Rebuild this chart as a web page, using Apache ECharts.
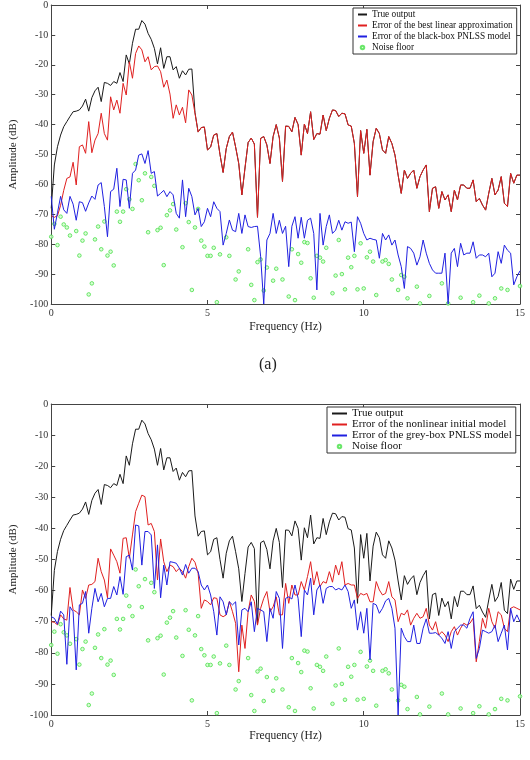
<!DOCTYPE html>
<html>
<head>
<meta charset="utf-8">
<script src="https://cdn.jsdelivr.net/npm/echarts@6/dist/echarts.min.js"></script>
<style>
  html, body { margin: 0; padding: 0; background: #fff; }
  #charts { width: 530px; height: 760px; }
</style>
</head>
<body>
<div id="charts"></div>
<script>
// frequency grid, 0.1 Hz steps from 0 to 15 Hz
const freqHz = Array.from({ length: 151 }, (_, i) => i / 10);

// true output (same curve in both plots), dB
const trueOutput = [
  -68, -53.5, -47.4, -43.5, -40.7, -39, -37.3, -35.7, -35.5, -35.1,
  -33.8, -31.5, -35.5, -31, -28.7, -27.5, -32.3, -25.9, -26.2, -26.9,
  -25.6, -26.2, -22.6, -25.6, -16.7, -19.7, -12.8, -8.1, -8.1, -5.2,
  -6.4, -9.5, -11.5, -14.5, -19.7, -14.3, -21.2, -17.3, -17.3, -21.7,
  -20.6, -24.5, -22, -23.4, -21.5, -21.4, -36, -42.5, -41, -40.8,
  -48.5, -47.5, -43.5, -43, -50, -56, -48, -44, -42.5, -47.5,
  -53, -63.5, -54.5, -46, -44.5, -46.5, -71, -44.6, -44, -46.8,
  -53, -44, -40, -44.5, -59, -40.5, -40.6, -42.4, -37.6, -40,
  -50.2, -39.8, -43, -35.7, -45, -43, -43.2, -36.8, -42, -37.9,
  -35.1, -35.3, -37.3, -36.2, -36.4, -40.1, -40.5, -46.3, -64.1, -42,
  -49.6, -41.6, -56.9, -45.7, -41.2, -43, -48.5, -49.6, -44, -46.3,
  -50.2, -56.9, -63, -55.2, -58, -56.3, -55.2, -61.3, -57.4, -55.2,
  -53.5, -69.1, -61.3, -60.8, -68, -62.4, -65.2, -63.5, -69.1, -61.9,
  -65.2, -60.2, -60.2, -61.3, -61.3, -58.5, -65.8, -64.7, -66.9, -68.6,
  -63, -58, -63.5, -61.9, -57.4, -66.3, -67.4, -56.3, -59.6, -56.9, -56.9
];

// error of the best linear approximation, 0 .. 4.6 Hz;
// above that it lies on the true output curve
const blaErrorLow = [
  -70.5, -71, -70.5, -67, -62, -58, -57.5, -52.6, -60.2, -47.4,
  -46.8, -49.6, -39, -49.4, -45.2, -43, -36.2, -43, -45.2, -30.7,
  -35.1, -31.8, -36.2, -26.2, -30.1, -19, -24.5, -16.2, -13.7, -15,
  -19, -17.3, -21.7, -20.6, -20.4, -22.3, -27.5, -25.1, -29.8, -37.9,
  -33.4, -36.8, -34.2, -39.4, -28.4, -30.1, -36.2
];
const blaError = blaErrorLow.concat(trueOutput.slice(blaErrorLow.length));

// error of the black-box PNLSS model
const blackBoxError = [
  -64, -75, -69.5, -64, -68.5, -69.7, -64, -66.6, -72, -65.8,
  -66.1, -69, -66.2, -63.9, -65, -60.2, -59.4, -67.4, -77.5, -62.4,
  -61.6, -54.6, -67.4, -58.3, -58.5, -68, -56.3, -55.2, -50.2, -49.8,
  -53, -48.7, -56.3, -55.7, -63.9, -63, -62, -64.1, -62.4, -63.5,
  -69.7, -71.3, -58.5, -70.8, -61.3, -64.1, -70.2, -68, -74.1, -72.5,
  -68, -70.8, -65.8, -68, -69.1, -80.3, -76.4, -71.9, -75.3, -75.8,
  -69.7, -76.4, -70.2, -74.1, -74.4, -74.1, -74, -84, -100, -78.6,
  -76.4, -69.7, -76.4, -72, -76.4, -74, -87.5, -74, -70.8, -78,
  -71, -78, -72, -71.3, -76.4, -95.3, -69.7, -80.3, -74.1, -70.2,
  -76.4, -75.3, -72, -75.3, -72.5, -73, -72.6, -82.5, -70.8, -73,
  -76.4, -78.6, -78, -78.4, -78.6, -84.7, -76.4, -78.6, -76.9, -80.3,
  -78.6, -83.6, -87.5, -94.8, -80.8, -81.4, -83, -87, -84.2, -78.6,
  -83, -86.4, -88.6, -89.7, -89.7, -89.7, -83, -100, -83, -81.4,
  -87.5, -79.7, -83.6, -83, -83, -79.2, -84.7, -83.6, -83.6, -84.2,
  -83, -90.9, -89.7, -82.5, -86.4, -80.3, -82, -83, -93.6, -90.9, -88.9
];

// error of the nonlinear initial model
const initialModelError = [
  -70, -70.2, -71, -67.8, -69.1, -69.5, -59, -66.2, -66.8, -67.8,
  -59.8, -62.5, -58.2, -58, -57.1, -49.6, -53.9, -56.6, -62.3, -46.6,
  -48.6, -50.7, -54.4, -43.2, -43, -49.6, -42.1, -34.6, -31.9, -29.3,
  -29.8, -38.9, -38.4, -41, -56.6, -43.4, -50.7, -53.9, -51.8, -52.3,
  -53.9, -52.8, -53.9, -56, -52.3, -49.6, -50.9, -54.4, -65.7, -63,
  -63.5, -64.6, -62.3, -62.5, -67.8, -68.4, -67.8, -63.5, -66.8, -70.5,
  -86.1, -71.1, -78.6, -66.8, -61.4, -63.5, -71.1, -65.7, -62.5, -60.3,
  -66.8, -65.2, -62, -67.8, -67.8, -57.7, -64.1, -58.2, -61.4, -61.4,
  -57.1, -59.8, -55.5, -50.7, -58.2, -53.9, -58.7, -57.1, -57.6, -53.9,
  -57.3, -51.8, -55, -50.7, -58.2, -57.7, -58.2, -58.2, -62.5, -60.9,
  -61.4, -60.9, -63.6, -63.6, -57.1, -59.8, -61.4, -60.9, -57.1, -62,
  -63, -70, -67.3, -67.8, -66.2, -71.1, -68.9, -67.3, -68.9, -68.4,
  -65.7, -71.1, -72.7, -70, -74.3, -73.2, -74.3, -76.4, -73.2, -71.6,
  -74.3, -72.1, -70.5, -71.1, -70.5, -68.9, -82.9, -76.4, -68.9, -72.1,
  -65.7, -70, -72.1, -66.8, -67.8, -72.1, -73.2, -65.7, -65.2, -65.7, -66.2
];

// error of the grey-box PNLSS model
const greyBoxError = [
  -68.4, -68.9, -70.8, -66.6, -67.8, -83.7, -65.2, -66.8, -85.5, -64.6,
  -64.1, -60.3, -73.7, -65.7, -59.3, -63.6, -60.9, -65.2, -62.5, -62.5,
  -58.7, -61.4, -55.5, -61.2, -49.1, -48.6, -53.4, -38.9, -39.2, -51.8,
  -41, -41, -42.1, -59.3, -45.3, -62.3, -51.8, -58.2, -50.7, -50.9,
  -51.2, -52.8, -55, -51.6, -54.4, -52.8, -52.8, -53.9, -58.2, -59.8,
  -58.2, -61.4, -66.8, -74.3, -62, -63.6, -67.8, -63.6, -64.6, -63.6,
  -77.5, -66.2, -65.7, -66.8, -63.6, -73.2, -65.7, -66.2, -66.8, -76.4,
  -65.7, -68.9, -60.3, -62.5, -78.6, -62.5, -62, -62.7, -58.2, -62.5,
  -74.8, -59.8, -61.4, -56, -67.8, -59.8, -58.2, -64.1, -59.3, -58.7,
  -58.7, -59.8, -59.3, -59.8, -58.2, -60.3, -65.7, -63, -72.7, -66.8,
  -73.7, -65.7, -82.3, -64.1, -64.6, -67.3, -65.7, -63.3, -62.5, -65.7,
  -72.1, -100, -72.1, -74.8, -76.4, -76.4, -71.1, -77, -77, -72.1,
  -69.1, -73.7, -73.7, -73.5, -74.3, -75.3, -77, -73.2, -78.6, -73.2,
  -72.1, -71.1, -71.1, -72.1, -68.9, -66.8, -81.8, -78.6, -72.7, -73.2,
  -73.7, -73.2, -71.1, -76.4, -73.7, -71.1, -79.1, -65.7, -70, -67.8, -70
];

// noise floor (null = below -100 dB, off the plot)
const noiseFloor = [
  -77.5, -73.2, -80.3, -70.8, -73.4, -74.4, -77.1, null, -75.6, -83.8,
  -78.8, -76.4, -96.8, -93.1, -78.4, -74.1, -81.7, -72.4, -83.8, -82.5,
  -87.1, -69.1, -72.5, -69.1, -61.6, -65, -68.2, -53.2, -58.6, -65.3,
  -56.3, -76, -57.5, -60.5, -75.3, -74.5, -87, -70.3, -68.7, -66.6,
  -75.1, null, -81, -66.3, -72.6, -95.3, -74.4, -68.2, -78.8, -80.8,
  -83.9, -83.9, -81.2, -99.4, -83.4, null, -77.7, -83.9, null, -91.8,
  -89.1, null, null, -81.7, -93.6, -98.7, -86, -85.1, -95.5, -87.8,
  null, -92.2, -88.2, null, -91.8, null, -97.5, -81.7, -98.7, -83.3,
  -86.2, -79.3, -79.6, -91.4, -97.9, -83.9, -84.5, -85.8, -81.2, null,
  -96.4, -90.5, -78.6, -90, -95.1, -84.5, -87.7, -83.9, -95.1, -79.7,
  -94.8, -84.4, -82.5, -85.8, -97, null, -85.8, -85.3, -86.6, -91.8,
  null, -95.3, -90.3, -90.9, -98.1, null, null, -94.2, -99.8, null,
  null, -97.3, null, null, null, -93.1, null, -99.8, null, null,
  null, -97.9, null, null, null, -99.4, null, -97.2, null, null,
  -99.8, null, -98.1, null, -94.8, null, -95.3, null, null, null, -94
];

const xTicks = [0, 15, 5];       // min, max, interval
const yTicks = [-100, 0, 10];

const serif = 'Liberation Serif';
const axisColor = '#444';
const colBlack = '#1a1a1a', colRed = '#e02020', colBlue = '#2020e0';

const pairs = vals => vals.map((v, i) => [freqHz[i], v]);

function xAxis(gridIndex, position, nameGap) {
  const main = position === 'bottom';
  return {
    gridIndex, type: 'value', position,
    min: xTicks[0], max: xTicks[1], interval: xTicks[2],
    name: main ? 'Frequency (Hz)' : '', nameLocation: 'middle', nameGap,
    nameTextStyle: { fontFamily: serif, fontSize: 11.5, color: '#222' },
    axisLine: { onZero: false, lineStyle: { color: axisColor, width: 1 } },
    axisTick: { inside: true, length: 4, lineStyle: { color: axisColor } },
    axisLabel: { show: main, margin: 4, fontFamily: serif, fontSize: 10, color: '#333' },
    splitLine: { show: false }
  };
}
function yAxis(gridIndex, position) {
  const main = position === 'left';
  return {
    gridIndex, type: 'value', position,
    min: yTicks[0], max: yTicks[1], interval: yTicks[2],
    name: main ? 'Amplitude (dB)' : '', nameLocation: 'middle', nameGap: 25, nameRotate: 90,
    nameTextStyle: { fontFamily: serif, fontSize: 11, color: '#222' },
    axisLine: { onZero: false, lineStyle: { color: axisColor, width: 1 } },
    axisTick: { inside: true, length: 4, lineStyle: { color: axisColor } },
    axisLabel: { show: main, margin: 3, fontFamily: serif, fontSize: 10, color: '#333' },
    splitLine: { show: false }
  };
}
function line(name, vals, color, gi) {
  return {
    name, type: 'line', xAxisIndex: gi, yAxisIndex: gi, data: pairs(vals),
    symbol: 'none', lineStyle: { color, width: 1 }, itemStyle: { color }
  };
}
function noise(gi) {
  return {
    name: 'Noise floor', type: 'scatter', xAxisIndex: gi, yAxisIndex: gi,
    data: pairs(noiseFloor).filter(p => p[1] !== null),
    symbol: 'circle', symbolSize: 3.6,
    itemStyle: { color: '#d2fccd', borderColor: '#48e048', borderWidth: 1 }
  };
}
function legend(names, left, top, iw, fs) {
  return {
    // line entries: hide the marker that echarts puts in the middle of the line
    data: names.map((n, i) => i < 3 ? { name: n, itemStyle: { opacity: 0 } } : n),
    orient: 'vertical', left, top, selectedMode: false,
    itemWidth: iw, itemHeight: 3.5, itemGap: 0, padding: [1, 4, 1, 4],
    borderColor: '#333', borderWidth: 1, borderRadius: 0, backgroundColor: '#fff',
    textStyle: { fontFamily: serif, fontSize: fs, lineHeight: 11, color: '#111' }
  };
}

const option = {
  animation: false,
  backgroundColor: '#fff',
  title: {
    text: '(a)', left: 259, top: 357, padding: 0,
    textStyle: { fontFamily: serif, fontSize: 16, fontWeight: 'normal', color: '#222' }
  },
  grid: [
    { left: 36, width: 484, top: 5, height: 299 },
    { left: 36, width: 484, top: 404, height: 311 }
  ],
  xAxis: [xAxis(0, 'bottom', 17), xAxis(1, 'bottom', 13), xAxis(0, 'top', 0), xAxis(1, 'top', 0)],
  yAxis: [yAxis(0, 'left'), yAxis(1, 'left'), yAxis(0, 'right'), yAxis(1, 'right')],
  legend: [
    legend(['True output', 'Error of the best linear approximation',
            'Error of the black-box PNLSS model', 'Noise floor'], 353, 8, 9, 9.3),
    legend(['True output', 'Error of the nonlinear initial model',
            'Error of the grey-box PNLSS model', 'Noise floor'], 327, 407, 15, 11)
  ],
  series: [
    line('True output', trueOutput, colBlack, 0),
    line('Error of the best linear approximation', blaError, colRed, 0),
    line('Error of the black-box PNLSS model', blackBoxError, colBlue, 0),
    noise(0),
    line('True output', trueOutput, colBlack, 1),
    line('Error of the nonlinear initial model', initialModelError, colRed, 1),
    line('Error of the grey-box PNLSS model', greyBoxError, colBlue, 1),
    noise(1)
  ]
};

const myChart = echarts.init(document.getElementById('charts'), null, { renderer: 'canvas' });
myChart.setOption(option);
</script>
</body>
</html>
